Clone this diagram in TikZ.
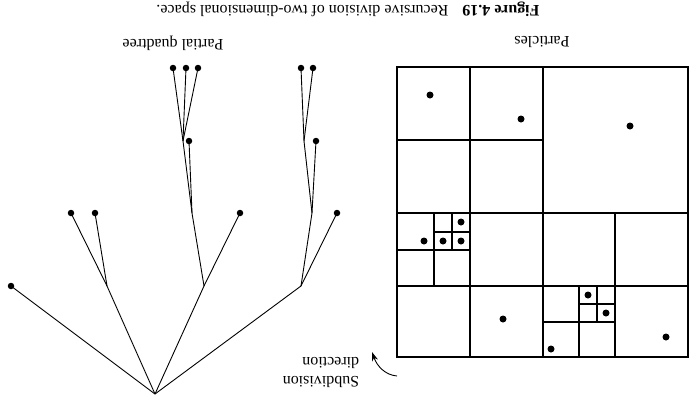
\documentclass[tikz,border=0pt]{standalone}
\usepackage{fontspec}
\setmainfont{Liberation Serif}
\usetikzlibrary{arrows.meta}
\begin{document}
\begin{tikzpicture}[x=1pt,y=-1pt,
  gridline/.style={line width=2.2pt,line cap=rect},
  particle/.style={circle,fill=black,inner sep=0pt,minimum size=7pt},
  leaf/.style={circle,fill=black,inner sep=0pt,minimum size=6.5pt},
  branch/.style={line width=0.9pt},
  flipped/.style={rotate=180,font=\fontsize{16}{19}\selectfont,inner sep=0pt}]
\useasboundingbox (0,0) rectangle (689,405);

% caption and headings (the whole figure is printed upside down)
\node[flipped] (caption) at (348,9)
  {\textbf{Figure 4.19}\hspace{14pt}Recursive division of two-dimensional space.};
\node[flipped] (particlestitle) at (542,42) {Particles};
\node[flipped] (treetitle) at (173,43) {Partial quadtree};
\node[flipped,align=left] (dirlabel) at (321,372) {Subdivision\\direction};

% subdivision of the square
\draw[gridline] (397,67) rectangle (688,357);
\draw[gridline] (543,67) -- (543,357);
\draw[gridline] (397,213) -- (688,213);
\draw[gridline] (470,67) -- (470,357);
\draw[gridline] (397,140) -- (543,140);
\draw[gridline] (397,286) -- (688,286);
\draw[gridline] (615,213) -- (615,357);
\draw[gridline] (434,213) -- (434,286);
\draw[gridline] (397,250) -- (470,250);
\draw[gridline] (452,213) -- (452,250);
\draw[gridline] (434,232) -- (470,232);
\draw[gridline] (579,286) -- (579,357);
\draw[gridline] (543,322) -- (615,322);
\draw[gridline] (597,286) -- (597,322);
\draw[gridline] (579,304) -- (615,304);

% particles
\foreach \px/\py [count=\i] in {430/95,521/119,630/126,424/241,443/241,461/241,
    461/222,503/319,588/295,606/313,551/349,666/337}
  \node[particle] (p\i) at (\px,\py) {};

% subdivision direction arrow
\coordinate (arrowstart) at (397,376);
\coordinate (arrowend) at (372,352);
\draw[line width=0.9pt,-{Stealth[length=9pt,width=6pt]}]
  (arrowstart) .. controls (385,375) and (377,366) .. (arrowend);

% partial quadtree
\coordinate (root) at (155,394);
\node[leaf] (a) at (11,286) {};
\coordinate (b) at (107,286);
\coordinate (c) at (204,286);
\coordinate (d) at (301,286);
\node[leaf] (b1) at (71,213) {};
\node[leaf] (b2) at (95,213) {};
\coordinate (c1) at (192,213);
\node[leaf] (c2) at (240,213) {};
\coordinate (c11) at (183,141);
\node[leaf] (c12) at (189,141) {};
\node[leaf] (c111) at (173,68) {};
\node[leaf] (c112) at (186,68) {};
\node[leaf] (c113) at (198,68) {};
\coordinate (d1) at (312,213);
\node[leaf] (d2) at (337,213) {};
\coordinate (d11) at (304,141);
\node[leaf] (d12) at (316,141) {};
\node[leaf] (d111) at (301,68) {};
\node[leaf] (d112) at (313,68) {};

\draw[branch] (root) -- (a.center);
\draw[branch] (root) -- (b);
\draw[branch] (root) -- (c);
\draw[branch] (root) -- (d);
\draw[branch] (b) -- (b1.center);
\draw[branch] (b) -- (b2.center);
\draw[branch] (c) -- (c1);
\draw[branch] (c) -- (c2.center);
\draw[branch] (c1) -- (c11);
\draw[branch] (c1) -- (c12.center);
\draw[branch] (c11) -- (c111.center);
\draw[branch] (c11) -- (c112.center);
\draw[branch] (c11) -- (c113.center);
\draw[branch] (d) -- (d1);
\draw[branch] (d) -- (d2.center);
\draw[branch] (d1) -- (d11);
\draw[branch] (d1) -- (d12.center);
\draw[branch] (d11) -- (d111.center);
\draw[branch] (d11) -- (d112.center);
\end{tikzpicture}
\end{document}
